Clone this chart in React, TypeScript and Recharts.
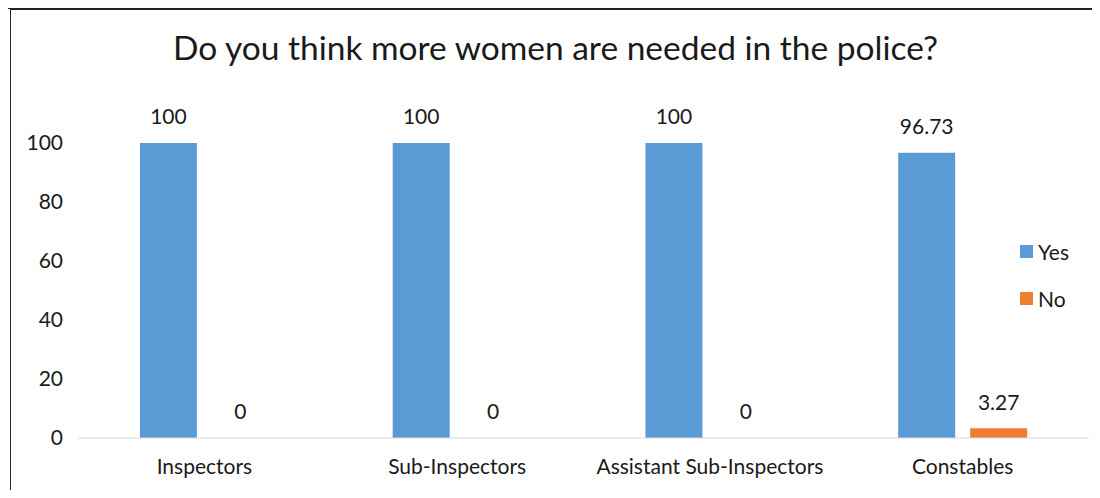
import { BarChart, Bar, XAxis, YAxis, Legend, LabelList, Rectangle } from 'recharts';

const categories = ['Inspectors', 'Sub-Inspectors', 'Assistant Sub-Inspectors', 'Constables'];
const yesValues = [100, 100, 100, 96.73];
const noValues = [0, 0, 0, 3.27];
const yTicks = [0, 20, 40, 60, 80, 100];

const data = categories.map((name, i) => ({ name, yes: yesValues[i], no: noValues[i] }));

const FONT = 'Lato, "Open Sans", sans-serif';
const BLUE = '#5B9BD5';
const ORANGE = '#ED7D31';
const TEXT = '#1a1a1a';

const LegendBox = () => (
  <div style={{ fontFamily: FONT, fontSize: 21, color: TEXT }}>
    {[
      { label: 'Yes', color: BLUE },
      { label: 'No', color: ORANGE },
    ].map(item => (
      <div key={item.label} style={{ display: 'flex', alignItems: 'center', height: 24, marginBottom: 23 }}>
        <span style={{ display: 'inline-block', width: 13, height: 13, background: item.color, marginRight: 5 }} />
        <span>{item.label}</span>
      </div>
    ))}
  </div>
);

// zero-height bars get a 1px min size so their "0" label still shows; draw nothing for them
const BarShape = (props: any) => (props.height <= 1 ? <g /> : <Rectangle {...props} />);

export default function App() {
  return (
    <div
      style={{
        position: 'relative',
        width: 1081,
        height: 480,
        marginLeft: -1,
        borderTop: '2px solid #222',
        borderLeft: '4px double #222',
        background: '#fff',
      }}
    >
      <style>{'html, body { overflow: hidden; } .recharts-wrapper svg { outline: none; }'}</style>
      <div
        style={{
          position: 'absolute',
          top: 17,
          left: 0,
          width: 1089,
          textAlign: 'center',
          fontFamily: FONT,
          fontSize: 33.5,
          lineHeight: '40px',
          color: TEXT,
        }}
      >
        Do you think more women are needed in the police?
      </div>
      <BarChart
        width={1081}
        height={480}
        data={data}
        margin={{ top: 133, right: 3, bottom: 0, left: 0 }}
        barCategoryGap="24.5%"
        barGap={15}
        accessibilityLayer={false}
      >
        <XAxis
          dataKey="name"
          height={52}
          axisLine={{ stroke: '#d9d9d9' }}
          tickLine={false}
          tickSize={0}
          tickMargin={21}
          tick={{ fontFamily: FONT, fontSize: 21, fill: TEXT }}
        />
        <YAxis
          width={67}
          domain={[0, 100]}
          ticks={yTicks}
          axisLine={false}
          tickLine={false}
          tickSize={0}
          tickMargin={15}
          tick={{ fontFamily: FONT, fontSize: 21, fill: TEXT }}
        />
        <Legend
          layout="horizontal"
          verticalAlign="middle"
          align="center"
          content={<LegendBox />}
          wrapperStyle={{ left: 1009, top: 229, width: 70 }}
        />
        <Bar dataKey="yes" name="Yes" fill={BLUE} isAnimationActive={false}>
          <LabelList dataKey="yes" position="top" offset={19} style={{ fontFamily: FONT, fontSize: 21, fill: TEXT }} />
        </Bar>
        <Bar dataKey="no" name="No" fill={ORANGE} minPointSize={1} shape={BarShape} isAnimationActive={false}>
          <LabelList dataKey="no" position="top" offset={18} style={{ fontFamily: FONT, fontSize: 21, fill: TEXT }} />
        </Bar>
      </BarChart>
    </div>
  );
}
